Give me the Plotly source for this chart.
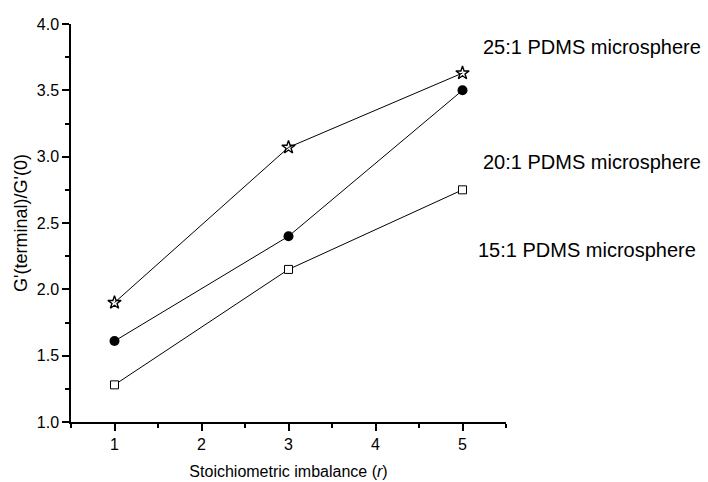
import plotly.graph_objects as go

x_r = [1, 3, 5]
ratio_25 = [1.90, 3.07, 3.63]
ratio_20 = [1.61, 2.40, 3.50]
ratio_15 = [1.28, 2.15, 2.75]

label_25 = "25:1 PDMS microsphere"
label_20 = "20:1 PDMS microsphere"
label_15 = "15:1 PDMS microsphere"

# label anchor positions (paper coords)
label_x = [1.198, 1.198, 1.186]
label_y = [0.943, 0.653, 0.433]

FONT = "Liberation Sans, Arial, sans-serif"

fig = go.Figure()
fig.add_trace(go.Scatter(x=x_r, y=ratio_25, mode="lines+markers",
                         line=dict(color="black", width=1),
                         marker=dict(symbol="star-open", size=10, color="black",
                                     line=dict(width=1.4, color="black")),
                         cliponaxis=False, showlegend=False))
fig.add_trace(go.Scatter(x=x_r, y=ratio_20, mode="lines+markers",
                         line=dict(color="black", width=1),
                         marker=dict(symbol="circle", size=10, color="black"),
                         cliponaxis=False, showlegend=False))
fig.add_trace(go.Scatter(x=x_r, y=ratio_15, mode="lines+markers",
                         line=dict(color="black", width=1),
                         marker=dict(symbol="square", size=8, color="white",
                                     line=dict(width=1, color="black")),
                         cliponaxis=False, showlegend=False))

for t, lx, ly in zip([label_25, label_20, label_15], label_x, label_y):
    fig.add_annotation(x=lx, y=ly, xref="paper", yref="paper", text=t, showarrow=False,
                       font=dict(family=FONT, size=20, color="black"),
                       xanchor="center", yanchor="middle")

fig.update_layout(
    width=708, height=482,
    margin=dict(l=71, r=202, t=24, b=60),
    paper_bgcolor="white", plot_bgcolor="white",
    font=dict(family=FONT, color="black"),
)
fig.update_xaxes(
    range=[0.5, 5.5], tickmode="linear", tick0=1, dtick=1, automargin=False,
    showline=True, linecolor="black", linewidth=1.5, mirror=False,
    showgrid=False, zeroline=False,
    ticks="outside", ticklen=7, tickwidth=1.5, tickcolor="black",
    tickfont=dict(family=FONT, size=16, color="black"),
    minor=dict(dtick=0.5, tick0=0.5, ticks="outside", ticklen=4, tickwidth=1.5, tickcolor="black"),
    title=dict(text="Stoichiometric imbalance (<i>r</i>)",
               font=dict(family=FONT, size=16, color="black"), standoff=14),
)
fig.update_yaxes(
    range=[1.0, 4.0], tickmode="linear", tick0=1, dtick=0.5, tickformat=".1f", automargin=False,
    showline=True, linecolor="black", linewidth=1.5, mirror=False,
    showgrid=False, zeroline=False,
    ticks="outside", ticklen=7, tickwidth=1.5, tickcolor="black",
    tickfont=dict(family=FONT, size=16, color="black"),
    minor=dict(dtick=0.25, tick0=1, ticks="outside", ticklen=4, tickwidth=1.5, tickcolor="black"),
    title=dict(text="G'(terminal)/G'(0)",
               font=dict(family=FONT, size=18, color="black"), standoff=4),
)

fig.write_html("out.html")
